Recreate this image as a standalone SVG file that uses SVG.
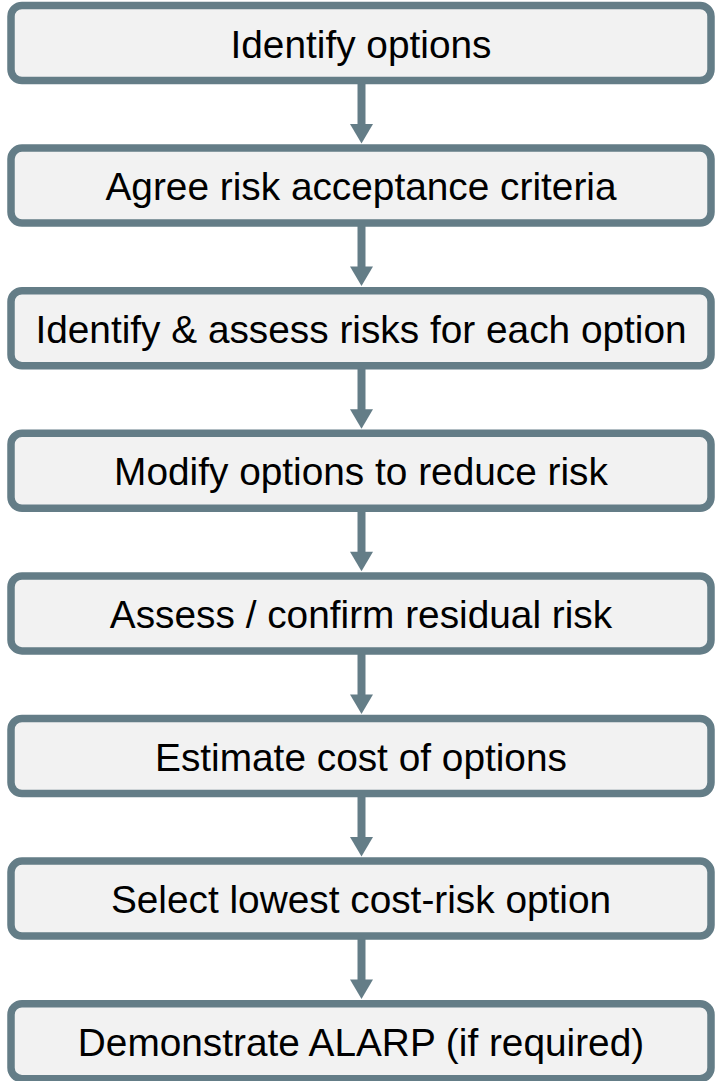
<svg xmlns="http://www.w3.org/2000/svg" width="715" height="1081" viewBox="0 0 715 1081">
<defs>
<style>
.box{fill:#f2f2f2;stroke:#647d87;stroke-width:7.5}
.lbl{font-family:"Liberation Sans",Arial,sans-serif;font-size:38.8px;fill:#000;text-anchor:middle}
.shaft{stroke:#647d87;stroke-width:8;fill:none}
.head{fill:#647d87}
</style>
</defs>
<rect width="715" height="1081" fill="#ffffff"/>
<g id="connectors">
<line class="shaft" x1="361.5" y1="80.5" x2="361.5" y2="125"/>
<polygon class="head" points="350,124 373,124 361.5,143.5"/>
<line class="shaft" x1="361.5" y1="223.1" x2="361.5" y2="267.6"/>
<polygon class="head" points="350,266.6 373,266.6 361.5,286.1"/>
<line class="shaft" x1="361.5" y1="365.7" x2="361.5" y2="410.2"/>
<polygon class="head" points="350,409.2 373,409.2 361.5,428.7"/>
<line class="shaft" x1="361.5" y1="508.3" x2="361.5" y2="552.8"/>
<polygon class="head" points="350,551.8 373,551.8 361.5,571.3"/>
<line class="shaft" x1="361.5" y1="650.9" x2="361.5" y2="695.4"/>
<polygon class="head" points="350,694.4 373,694.4 361.5,713.9"/>
<line class="shaft" x1="361.5" y1="793.5" x2="361.5" y2="838"/>
<polygon class="head" points="350,837 373,837 361.5,856.5"/>
<line class="shaft" x1="361.5" y1="936.1" x2="361.5" y2="980.6"/>
<polygon class="head" points="350,979.6 373,979.6 361.5,999.1"/>
</g>
<g id="n1"><rect class="box" x="11" y="5.5" width="700" height="75" rx="11"/><text class="lbl" x="361" y="57.5">Identify options</text></g>
<g id="n2"><rect class="box" x="11" y="148.1" width="700" height="75" rx="11"/><text class="lbl" x="361" y="200.1">Agree risk acceptance criteria</text></g>
<g id="n3"><rect class="box" x="11" y="290.7" width="700" height="75" rx="11"/><text class="lbl" x="361" y="342.7">Identify &amp; assess risks for each option</text></g>
<g id="n4"><rect class="box" x="11" y="433.3" width="700" height="75" rx="11"/><text class="lbl" x="361" y="485.3">Modify options to reduce risk</text></g>
<g id="n5"><rect class="box" x="11" y="575.9" width="700" height="75" rx="11"/><text class="lbl" x="361" y="627.9">Assess / confirm residual risk</text></g>
<g id="n6"><rect class="box" x="11" y="718.5" width="700" height="75" rx="11"/><text class="lbl" x="361" y="770.5">Estimate cost of options</text></g>
<g id="n7"><rect class="box" x="11" y="861.1" width="700" height="75" rx="11"/><text class="lbl" x="361" y="913.1">Select lowest cost-risk option</text></g>
<g id="n8"><rect class="box" x="11" y="1003.7" width="700" height="75" rx="11"/><text class="lbl" x="361" y="1055.7">Demonstrate ALARP (if required)</text></g>
</svg>
